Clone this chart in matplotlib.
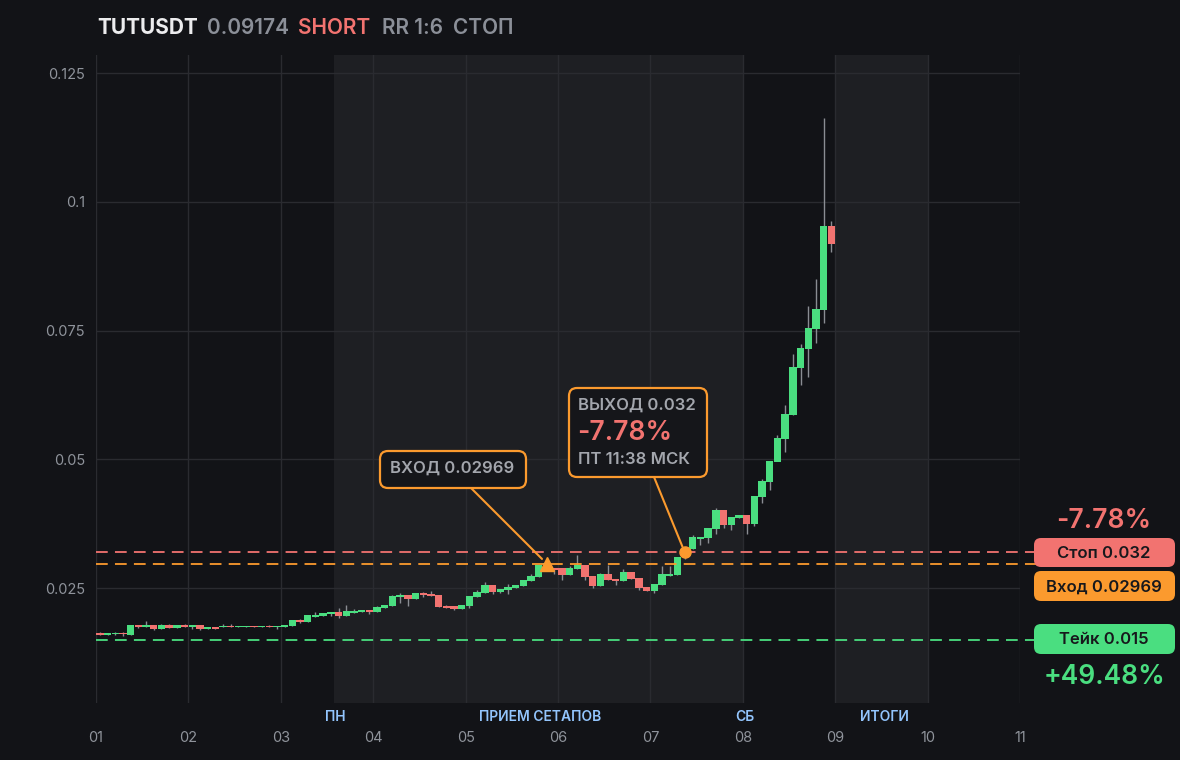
import matplotlib
matplotlib.use('Agg')
import matplotlib.pyplot as plt
from matplotlib.patches import FancyBboxPatch

plt.rcParams['font.family'] = ['Inter', 'DejaVu Sans']

# ---------------- data ----------------
symbol = 'TUTUSDT'
last_price = '0.09174'
side = 'SHORT'
rr_text = 'RR 1:6'
status_text = 'СТОП'

day_ticks = [1, 2, 3, 4, 5, 6, 7, 8, 9, 10, 11]
day_labels = ['01', '02', '03', '04', '05', '06', '07', '08', '09', '10', '11']
y_ticks = [0.025, 0.05, 0.075, 0.1, 0.125]
y_tick_labels = ['0.025', '0.05', '0.075', '0.1', '0.125']

candle_hours = 2
start_day = 1

opens = [0.01626, 0.01597, 0.0160, 0.0163, 0.0159, 0.0178, 0.01752, 0.0178, 0.0170, 0.0178,
         0.01729, 0.0178, 0.01752, 0.0178, 0.0170, 0.01743, 0.01735, 0.01762, 0.01735, 0.01735,
         0.01762, 0.01735, 0.01762, 0.01735, 0.01752, 0.01762, 0.01879, 0.0184, 0.01937, 0.01956,
         0.01995, 0.02034, 0.01956, 0.02015, 0.02034, 0.02073, 0.02034, 0.02112, 0.0215, 0.02325,
         0.02364, 0.02286, 0.02403, 0.02383, 0.02364, 0.0215, 0.0215, 0.02092, 0.0215, 0.02325,
         0.02403, 0.02558, 0.02422, 0.02461, 0.0250, 0.02539, 0.02636, 0.02714, 0.0294, 0.02888,
         0.02888, 0.02752, 0.02869, 0.02947, 0.02733, 0.02539, 0.02772, 0.02675, 0.02636, 0.02811,
         0.02694, 0.02519, 0.02442, 0.02558, 0.02733, 0.02752, 0.0310, 0.03257, 0.03451, 0.03471,
         0.03646, 0.04015, 0.03723, 0.03859, 0.03917, 0.03743, 0.04267, 0.04558, 0.04947, 0.05393,
         0.05859, 0.06772, 0.07141, 0.07529, 0.07898, 0.09529]
highs = [0.0164, 0.0163, 0.0164, 0.0164, 0.0178, 0.0178, 0.0186, 0.0179, 0.0180, 0.0180,
         0.0178, 0.0180, 0.0178, 0.0178, 0.01743, 0.01743, 0.0180, 0.0180, 0.01762, 0.01762,
         0.01762, 0.01762, 0.0178, 0.01762, 0.0178, 0.01879, 0.0190, 0.01976, 0.0203, 0.02015,
         0.02034, 0.0211, 0.0217, 0.0209, 0.02073, 0.02073, 0.0215, 0.0217, 0.0236, 0.0240,
         0.02364, 0.02403, 0.0242, 0.0244, 0.02364, 0.0217, 0.0215, 0.0217, 0.02345, 0.0246,
         0.0262, 0.02558, 0.02481, 0.0258, 0.02558, 0.02655, 0.0277, 0.02947, 0.0302, 0.02888,
         0.02888, 0.0293, 0.0314, 0.02947, 0.02733, 0.0279, 0.0295, 0.02675, 0.0287, 0.02811,
         0.02694, 0.02519, 0.02578, 0.0293, 0.0293, 0.03102, 0.0328, 0.0353, 0.0349, 0.03665,
         0.0405, 0.04015, 0.03879, 0.03917, 0.03917, 0.04286, 0.0462, 0.04966, 0.0547, 0.0605,
         0.0704, 0.0724, 0.0798, 0.0850, 0.1163, 0.0963]
lows = [0.0159, 0.0159, 0.0159, 0.0157, 0.0159, 0.0172, 0.01752, 0.0168, 0.0170, 0.01729,
        0.01729, 0.01752, 0.0171, 0.0168, 0.0170, 0.0170, 0.01735, 0.01735, 0.01735, 0.01735,
        0.01735, 0.01735, 0.01735, 0.0170, 0.01752, 0.01762, 0.0182, 0.0184, 0.01937, 0.01956,
        0.0196, 0.0192, 0.01956, 0.02015, 0.02034, 0.0200, 0.02034, 0.02112, 0.0215, 0.0221,
        0.0215, 0.02286, 0.0233, 0.02345, 0.0214, 0.02112, 0.0207, 0.02092, 0.0212, 0.02325,
        0.02403, 0.0238, 0.0240, 0.0238, 0.0250, 0.02539, 0.02636, 0.02714, 0.0292, 0.0277,
        0.0266, 0.02752, 0.02869, 0.0266, 0.0250, 0.02539, 0.02655, 0.0256, 0.02636, 0.02675,
        0.0246, 0.02442, 0.0240, 0.02558, 0.02733, 0.02752, 0.0306, 0.03257, 0.0334, 0.0337,
        0.0355, 0.0367, 0.0363, 0.03859, 0.0355, 0.0370, 0.0415, 0.0440, 0.0514, 0.0514,
        0.05859, 0.0644, 0.0660, 0.0726, 0.0765, 0.0902]
closes = [0.01597, 0.01626, 0.0163, 0.0160, 0.0178, 0.01752, 0.0178, 0.0170, 0.0178, 0.01729,
          0.0178, 0.01752, 0.0178, 0.0170, 0.01743, 0.0170, 0.01762, 0.01735, 0.01762, 0.01762,
          0.01735, 0.01762, 0.01735, 0.01762, 0.0178, 0.01879, 0.0184, 0.01976, 0.01976, 0.02015,
          0.02034, 0.01956, 0.02053, 0.02053, 0.02073, 0.02034, 0.02131, 0.0217, 0.02345, 0.02364,
          0.02286, 0.02403, 0.02364, 0.02345, 0.0214, 0.02112, 0.02092, 0.0217, 0.02345, 0.02422,
          0.02558, 0.02422, 0.02481, 0.02519, 0.02558, 0.02655, 0.02733, 0.02947, 0.0298, 0.0285,
          0.02752, 0.02888, 0.02947, 0.02714, 0.02539, 0.02772, 0.02655, 0.02636, 0.02811, 0.02675,
          0.0250, 0.02442, 0.02578, 0.02772, 0.02772, 0.03102, 0.0326, 0.0349, 0.0349, 0.03665,
          0.04015, 0.03723, 0.03879, 0.03917, 0.03743, 0.04286, 0.04578, 0.04966, 0.05413, 0.05879,
          0.06791, 0.0716, 0.07549, 0.07917, 0.09529, 0.09174]

entry_price = 0.02969
stop_price = 0.032
take_price = 0.015
entry_time = 5.88
exit_time = 7.37
exit_price = 0.032
stop_pct = '-7.78%'
take_pct = '+49.48%'
entry_label = 'ВХОД 0.02969'
exit_label = 'ВЫХОД 0.032'
exit_time_label = 'ПТ 11:38 МСК'
stop_box = 'Стоп 0.032'
entry_box = 'Вход 0.02969'
take_box = 'Тейк 0.015'

shaded_spans = [(3.576, 8.0), (9.0, 10.0)]
section_labels = ['ПН', 'ПРИЕМ СЕТАПОВ', 'СБ', 'ИТОГИ']
section_pos = [3.59, 5.81, 8.02, 9.53]

# ---------------- style ----------------
BG = '#121317'
SHADE = '#1e1f23'
GRID = '#2a2b30'
GREEN = '#4ade80'
RED = '#f27370'
ORANGE = '#fb9a2e'
GRAY = '#8b8f98'
TICK = '#8f939b'
WICK = '#8a8d93'
SECTION = '#93c5fd'

W, H = 1180, 760
fig = plt.figure(figsize=(W / 100, H / 100), dpi=100, facecolor=BG)
ax = fig.add_axes([96 / W, 1 - 703 / H, (1020 - 96) / W, (703 - 55) / H])
ax.set_facecolor(BG)
ax.set_xlim(1, 11)
ax.set_ylim(0.00267, 0.1285)

for a, b in shaded_spans:
    ax.axvspan(a, b, color=SHADE, zorder=0, lw=0)

ax.set_xticks(day_ticks)
ax.set_xticklabels(day_labels)
ax.set_yticks(y_ticks)
ax.set_yticklabels(y_tick_labels)
ax.grid(True, color=GRID, lw=1, zorder=1)
ax.set_axisbelow(True)
for s in ax.spines.values():
    s.set_visible(False)
ax.tick_params(axis='both', length=0, colors=TICK, labelsize=10.5)
ax.tick_params(axis='x', pad=20)
ax.tick_params(axis='y', pad=8)

# candles
step = candle_hours / 24
xs = [start_day + (i + 0.5) * step for i in range(len(opens))]
min_h = 0.00035
body_bottom = [min(o, c) for o, c in zip(opens, closes)]
body_h = [max(abs(c - o), min_h) for o, c in zip(opens, closes)]
colors = [GREEN if c >= o else RED for o, c in zip(opens, closes)]
ax.vlines(xs, lows, highs, color=WICK, lw=1, zorder=3)
ax.bar(xs, body_h, bottom=body_bottom, width=step * 0.96, color=colors, lw=0, zorder=4)

# level lines
dash = dict(lw=1.3, dashes=(6.5, 4), zorder=5, clip_on=False)
ax.axhline(stop_price, xmin=0, xmax=(1175 - 96) / 924, color=RED, **dash)
ax.axhline(entry_price, xmin=0, xmax=(1175 - 96) / 924, color=ORANGE, **dash)
ax.axhline(take_price, xmin=0, xmax=(1175 - 96) / 924, color=GREEN, **dash)

# entry / exit markers
ax.plot([entry_time], [entry_price], marker='^', ms=10, color=ORANGE, zorder=7, clip_on=False)
ax.plot([exit_time], [exit_price], marker='o', ms=8, color=ORANGE, zorder=7, clip_on=False)


def fig_box(x0, y0, x1, y1, fc, ec, lw=0, r=6, z=8):
    p = FancyBboxPatch((x0 / W, 1 - y1 / H), (x1 - x0) / W, (y1 - y0) / H,
                       boxstyle=f'round,pad=0,rounding_size={r / W}',
                       transform=fig.transFigure, fc=fc, ec=ec, lw=lw, zorder=z,
                       mutation_aspect=W / H)
    fig.add_artist(p)


def fig_text(x, y, s, **kw):
    fig.text(x / W, 1 - y / H, s, **kw)


# connectors
ax.annotate('', xy=(entry_time, entry_price), xytext=(471, H - 488), textcoords='figure pixels',
            arrowprops=dict(arrowstyle='-', color=ORANGE, lw=1.5, shrinkA=0, shrinkB=5), zorder=6)
ax.annotate('', xy=(exit_time, exit_price), xytext=(654, H - 477), textcoords='figure pixels',
            arrowprops=dict(arrowstyle='-', color=ORANGE, lw=1.5, shrinkA=0, shrinkB=4), zorder=6)

# annotation boxes
fig_box(380, 451, 526, 488, '#15161a', ORANGE, lw=1.6, r=8)
fig_text(390, 468, entry_label, color='#a3a6ad', fontsize=12, fontweight='semibold', va='center', ha='left', zorder=9)

fig_box(569, 388, 707, 477, '#15161a', ORANGE, lw=1.6, r=8)
fig_text(578, 405, exit_label, color='#a3a6ad', fontsize=12, fontweight='semibold', va='center', ha='left', zorder=9)
fig_text(577, 433, stop_pct, color=RED, fontsize=19, fontweight='semibold', va='center', ha='left', zorder=9)
fig_text(578, 460, exit_time_label, color='#a3a6ad', fontsize=12, fontweight='semibold', va='center', ha='left', zorder=9)

# right side labels
fig_text(1104, 521, stop_pct, color=RED, fontsize=19, fontweight='semibold', va='center', ha='center')
fig_box(1034, 538, 1175, 567, RED, 'none', r=7)
fig_text(1104, 553, stop_box, color='#17181c', fontsize=12, fontweight='semibold', va='center', ha='center', zorder=9)
fig_box(1034, 571, 1175, 601, ORANGE, 'none', r=7)
fig_text(1104, 587, entry_box, color='#17181c', fontsize=12, fontweight='semibold', va='center', ha='center', zorder=9)
fig_box(1034, 624, 1175, 654, GREEN, 'none', r=7)
fig_text(1104, 640, take_box, color='#17181c', fontsize=12, fontweight='semibold', va='center', ha='center', zorder=9)
fig_text(1104, 677, take_pct, color=GREEN, fontsize=19, fontweight='semibold', va='center', ha='center')

# section labels
for lbl, pos in zip(section_labels, section_pos):
    ax.text(pos, -0.022, lbl, transform=ax.get_xaxis_transform(), color=SECTION,
            fontsize=10, fontweight='semibold', ha='center', va='center')

# title
title_parts = [(symbol, '#ececee', 'bold'), (last_price, GRAY, 'semibold'),
               (side, RED, 'semibold'), (rr_text, GRAY, 'semibold'), (status_text, GRAY, 'semibold')]
title_x = [97, 207, 298, 382, 453]
for (txt, col, fw), x in zip(title_parts, title_x):
    fig_text(x, 28, txt, color=col, fontsize=15, fontweight=fw, va='center', ha='left')

fig.savefig('out.png', dpi=100, facecolor=BG)
